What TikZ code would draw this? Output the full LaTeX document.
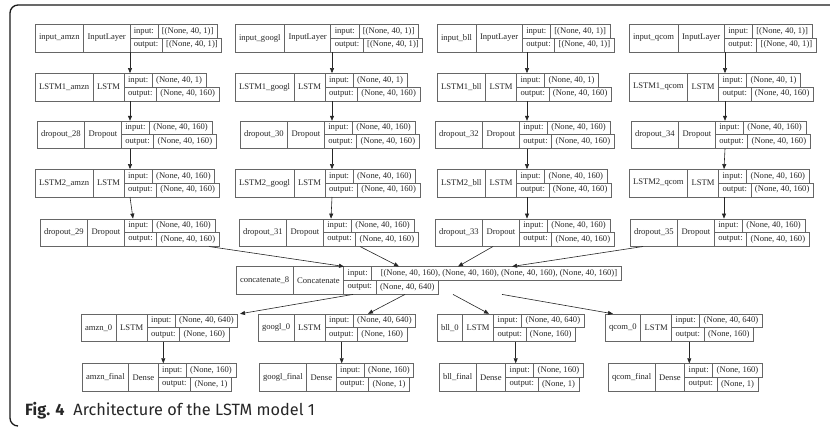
\documentclass[tikz,border=0pt]{standalone}
\usepackage{fontspec}
\newfontfamily\lyrfont{Liberation Serif}
\newfontfamily\capfont{Fira Sans}
\usetikzlibrary{arrows.meta,fit,calc}
\newlength\lyrv
\newlength\lyrlab
\newcommand\lyrsize{\lyrfont\fontsize{8.6}{10}\selectfont}
\tikzset{
  cellbox/.style={draw=black!60, line width=0.6pt, inner xsep=4pt, inner ysep=0pt,
    outer sep=0pt, font=\lyrsize, text=black!85, anchor=north west},
  arr/.style={draw=black!85, line width=0.6pt, -{Triangle[length=5pt,width=4pt]}},
  framel/.style={draw=black!90, line width=1.3pt}
}
% #1 id, #2 left x, #3 top y, #4 name, #5 class, #6 input value, #7 output value
\newcommand\layer[7]{%
  \setbox0=\hbox{\lyrsize #6}\lyrv=\wd0
  \setbox0=\hbox{\lyrsize #7}%
  \ifdim\wd0>\lyrv \lyrv=\wd0 \fi
  \advance\lyrv by 8pt
  \node[cellbox, minimum height=27.5pt] (#1-n) at (#2,#3) {#4};
  \node[cellbox, minimum height=27.5pt] (#1-c) at (#1-n.north east) {#5};
  \node[cellbox, minimum height=13.75pt, minimum width=\lyrlab] (#1-il) at (#1-c.north east) {input:};
  \node[cellbox, minimum height=13.75pt, minimum width=\lyrlab] (#1-ol) at (#1-il.south west) {output:};
  \node[cellbox, minimum height=13.75pt, minimum width=\lyrv] (#1-iv) at (#1-il.north east) {#6};
  \node[cellbox, minimum height=13.75pt, minimum width=\lyrv] (#1-ov) at (#1-ol.north east) {#7};
  \node[fit=(#1-n)(#1-ov), inner sep=0pt] (#1) {};
}
\begin{document}
\begin{tikzpicture}[x=1pt, y=-1pt]
\setbox0=\hbox{\lyrsize output:}\lyrlab=\wd0 \advance\lyrlab by 8pt
\useasboundingbox (0,0) rectangle (830,426);
% frame
\draw[framel] (830,5) -- (18,5) arc[start angle=-90, end angle=-180, radius=8]
  -- (10,418) arc[start angle=180, end angle=90, radius=8];
% row 1
\layer{ia}{35}{24.3}{input\_amzn}{InputLayer}{[(None, 40, 1)]}{[(None, 40, 1)]}
\layer{ig}{235}{24.3}{input\_googl}{InputLayer}{[(None, 40, 1)]}{[(None, 40, 1)]}
\layer{ib}{437}{24.3}{input\_bll}{InputLayer}{[(None, 40, 1)]}{[(None, 40, 1)]}
\layer{iq}{629}{24.3}{input\_qcom}{InputLayer}{[(None, 40, 1)]}{[(None, 40, 1)]}
% row 2
\layer{la}{35}{73.3}{LSTM1\_amzn}{LSTM}{(None, 40, 1)}{(None, 40, 160)}
\layer{lg}{235}{73.3}{LSTM1\_googl}{LSTM}{(None, 40, 1)}{(None, 40, 160)}
\layer{lb}{437}{73.3}{LSTM1\_bll}{LSTM}{(None, 40, 1)}{(None, 40, 160)}
\layer{lq}{629}{73.3}{LSTM1\_qcom}{LSTM}{(None, 40, 1)}{(None, 40, 160)}
% row 3
\layer{da}{37}{121}{dropout\_28}{Dropout}{(None, 40, 160)}{(None, 40, 160)}
\layer{dg}{240}{121}{dropout\_30}{Dropout}{(None, 40, 160)}{(None, 40, 160)}
\layer{db}{435}{121}{dropout\_32}{Dropout}{(None, 40, 160)}{(None, 40, 160)}
\layer{dq}{631}{121}{dropout\_34}{Dropout}{(None, 40, 160)}{(None, 40, 160)}
% row 4
\layer{ma}{35}{169.3}{LSTM2\_amzn}{LSTM}{(None, 40, 160)}{(None, 40, 160)}
\layer{mg}{235}{169.3}{LSTM2\_googl}{LSTM}{(None, 40, 160)}{(None, 40, 160)}
\layer{mb}{437}{169.3}{LSTM2\_bll}{LSTM}{(None, 40, 160)}{(None, 40, 160)}
\layer{mq}{629}{169.3}{LSTM2\_qcom}{LSTM}{(None, 40, 160)}{(None, 40, 160)}
% row 5
\layer{ea}{40}{218.8}{dropout\_29}{Dropout}{(None, 40, 160)}{(None, 40, 160)}
\layer{eg}{239}{218.8}{dropout\_31}{Dropout}{(None, 40, 160)}{(None, 40, 160)}
\layer{eb}{435}{218.8}{dropout\_33}{Dropout}{(None, 40, 160)}{(None, 40, 160)}
\layer{eq}{630}{218.8}{dropout\_35}{Dropout}{(None, 40, 160)}{(None, 40, 160)}
% row 6
\layer{cat}{236}{266.7}{concatenate\_8}{Concatenate}{\hspace{5pt}[(None, 40, 160), (None, 40, 160), (None, 40, 160), (None, 40, 160)]\hspace{5pt}}{(None, 40, 640)}
% row 7
\layer{oa}{81}{314}{amzn\_0}{LSTM}{(None, 40, 640)}{(None, 160)}
\layer{og}{258}{314}{googl\_0}{LSTM}{(None, 40, 640)}{(None, 160)}
\layer{ob}{437}{314}{bll\_0}{LSTM}{(None, 40, 640)}{(None, 160)}
\layer{oq}{605}{314}{qcom\_0}{LSTM}{(None, 40, 640)}{(None, 160)}
% row 8
\layer{fa}{82}{363.5}{amzn\_final}{Dense}{(None, 160)}{(None, 1)}
\layer{fg}{259}{363.5}{googl\_final}{Dense}{(None, 160)}{(None, 1)}
\layer{fb}{439}{363.5}{bll\_final}{Dense}{(None, 160)}{(None, 1)}
\layer{fq}{608}{363.5}{qcom\_final}{Dense}{(None, 160)}{(None, 1)}
% column x positions
\coordinate (xa) at (130,0);   \coordinate (xa2) at (133,0);
\coordinate (xg) at (332,0);   \coordinate (xg2) at (331,0);
\coordinate (xb) at (527,0);
\coordinate (xq) at (725,0);   \coordinate (xq2) at (724,0);
% vertical chains
\draw[arr] (ia.south -| xa) -- (la.north -| xa);
\draw[arr] (la.south -| xa) -- (da.north -| xa);
\draw[arr] (da.south -| xa) -- (ma.north -| xa);
\draw[arr] (ma.south -| xa) -- (ea.north -| xa2);
\draw[arr] (ig.south -| xg) -- (lg.north -| xg);
\draw[arr] (lg.south -| xg) -- (dg.north -| xg);
\draw[arr] (dg.south -| xg) -- (mg.north -| xg);
\draw[arr] (mg.south -| xg) -- (eg.north -| xg2);
\draw[arr] (ib.south -| xb) -- (lb.north -| xb);
\draw[arr] (lb.south -| xb) -- (db.north -| xb);
\draw[arr] (db.south -| xb) -- (mb.north -| xb);
\draw[arr] (mb.south -| xb) -- (eb.north -| xb);
\draw[arr] (iq.south -| xq) -- (lq.north -| xq);
\draw[arr] (lq.south -| xq) -- (dq.north -| xq);
\draw[arr] (dq.south -| xq) -- (mq.north -| xq2);
\draw[arr] (mq.south -| xq2) -- (eq.north -| xq2);
% into concatenate
\coordinate (s1) at (209,0); \coordinate (t1) at (344,0);
\coordinate (s2) at (360,0); \coordinate (t2) at (399,0);
\coordinate (s3) at (493,0); \coordinate (t3) at (458,0);
\coordinate (s4) at (643,0); \coordinate (t4) at (512,0);
\draw[arr] (ea.south -| s1) -- (cat.north -| t1);
\draw[arr] (eg.south -| s2) -- (cat.north -| t2);
\draw[arr] (eb.south -| s3) -- (cat.north -| t3);
\draw[arr] (eq.south -| s4) -- (cat.north -| t4);
% out of concatenate
\coordinate (u1) at (353,0); \coordinate (v1) at (240,0);
\coordinate (u2) at (405,0); \coordinate (v2) at (368,0);
\coordinate (u3) at (453,0); \coordinate (v3) at (489,0);
\coordinate (u4) at (502,0); \coordinate (v4) at (613,0);
\draw[arr] (cat.south -| u1) -- (oa.north -| v1);
\draw[arr] (cat.south -| u2) -- (og.north -| v2);
\draw[arr] (cat.south -| u3) -- (ob.north -| v3);
\draw[arr] (cat.south -| u4) -- (oq.north -| v4);
% final
\coordinate (wa) at (163.3,0); \coordinate (wg) at (341.7,0);
\coordinate (wb) at (515.7,0); \coordinate (wq) at (689.3,0);
\draw[arr] (oa.south -| wa) -- (fa.north -| wa);
\draw[arr] (og.south -| wg) -- (fg.north -| wg);
\draw[arr] (ob.south -| wb) -- (fb.north -| wb);
\draw[arr] (oq.south -| wq) -- (fq.north -| wq);
% caption
\node[anchor=base west, inner sep=0pt, font=\capfont\fontsize{16.3}{19}\selectfont, text=black!85] (cap) at (25,415)
  {\textbf{Fig. 4}\hspace{0.55em}Architecture of the LSTM model 1};
\end{tikzpicture}
\end{document}
